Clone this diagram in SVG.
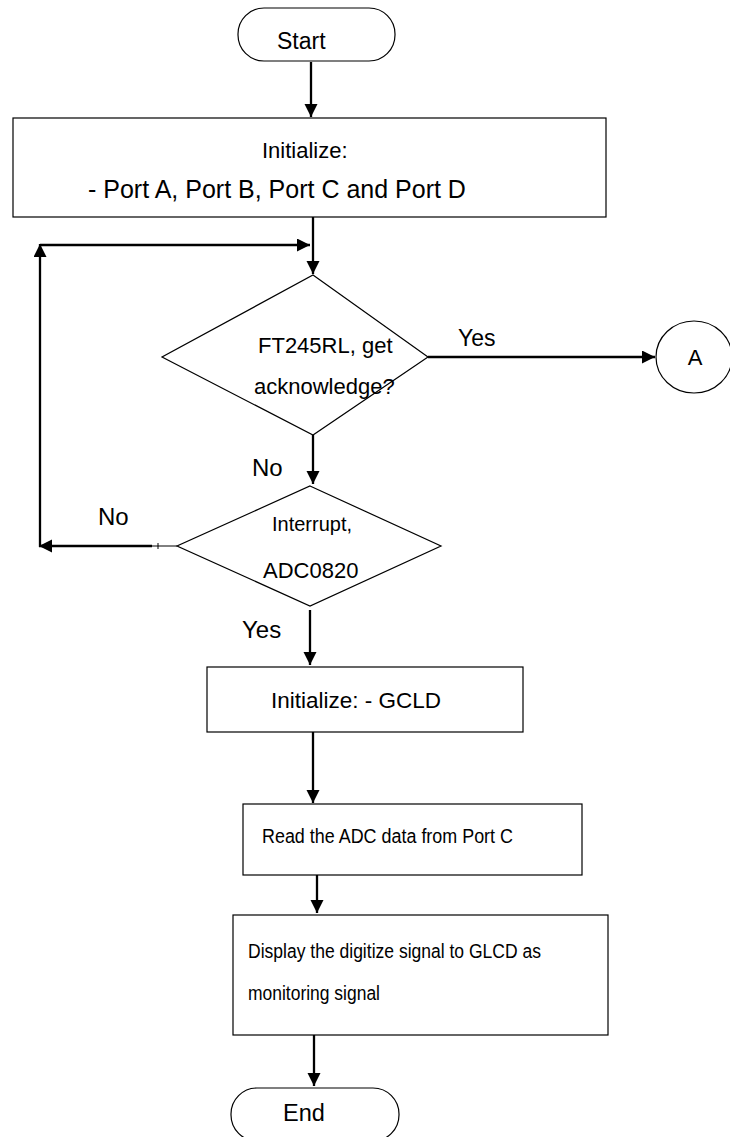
<svg xmlns="http://www.w3.org/2000/svg" width="730" height="1137" viewBox="0 0 730 1137">
  <style>
    .shape { fill: #ffffff; stroke: #000000; stroke-width: 1.2; }
    .label { font-family: "Liberation Sans", Arial, sans-serif; font-size: 22px; fill: #000000; }
    .mid { text-anchor: middle; }
    .edge { fill: none; stroke: #000000; stroke-width: 2.3; }
    .thin { fill: none; stroke: #000000; stroke-width: 1; }
  </style>
  <defs>
    <marker id="arrow" markerWidth="14" markerHeight="14" refX="13" refY="6.5" orient="auto" markerUnits="userSpaceOnUse">
      <path d="M0,0 L13,6.5 L0,13 z" fill="#000000"/>
    </marker>
  </defs>
  <rect width="730" height="1137" fill="#ffffff"/>

  <g id="connectors">
    <line class="edge" x1="311" y1="62" x2="311" y2="117" marker-end="url(#arrow)"/>
    <line class="edge" x1="313" y1="217" x2="313" y2="274" marker-end="url(#arrow)"/>
    <line class="edge" x1="428" y1="357" x2="655" y2="357" marker-end="url(#arrow)"/>
    <line class="edge" x1="313" y1="435" x2="313" y2="484" marker-end="url(#arrow)"/>
    <line class="thin" x1="177" y1="546" x2="152" y2="546"/>
    <line class="thin" x1="158" y1="543" x2="158" y2="549"/>
    <line class="edge" x1="152" y1="546" x2="39" y2="546" marker-end="url(#arrow)"/>
    <line class="edge" x1="40" y1="547" x2="40" y2="244" marker-end="url(#arrow)"/>
    <line class="edge" x1="40" y1="245" x2="310" y2="245" marker-end="url(#arrow)"/>
    <line class="edge" x1="310" y1="610" x2="310" y2="665" marker-end="url(#arrow)"/>
    <line class="edge" x1="313" y1="732" x2="313" y2="803" marker-end="url(#arrow)"/>
    <line class="edge" x1="317" y1="875" x2="317" y2="913" marker-end="url(#arrow)"/>
    <line class="edge" x1="314" y1="1035" x2="314" y2="1086" marker-end="url(#arrow)"/>
    <text class="label" x="458" y="346" style="font-size:23px">Yes</text>
    <text class="label" x="252" y="476" style="font-size:24px">No</text>
    <text class="label" x="98" y="525" style="font-size:24px">No</text>
    <text class="label" x="242" y="638" style="font-size:24px">Yes</text>
  </g>

  <g id="start">
    <rect class="shape" x="238" y="8" width="157" height="53" rx="26" ry="26"/>
    <text class="label" x="277" y="49" style="font-size:23px">Start</text>
  </g>

  <g id="init-ports">
    <rect class="shape" x="13" y="118" width="593" height="99"/>
    <text class="label" x="262" y="158">Initialize:</text>
    <text class="label" x="88" y="198" style="font-size:25px">- Port A, Port B, Port C and Port D</text>
  </g>

  <g id="ft245rl-ack">
    <polygon class="shape" points="313,275 428,357 313,435 162,357"/>
    <text class="label" x="258" y="353">FT245RL, get</text>
    <text class="label" x="254" y="394">acknowledge?</text>
  </g>

  <g id="connector-a">
    <ellipse class="shape" cx="694" cy="357" rx="38" ry="36"/>
    <text class="label mid" x="695" y="365">A</text>
  </g>

  <g id="adc-interrupt">
    <polygon class="shape" points="310,486 441,546 310,606 177,546"/>
    <text class="label" x="272" y="531" style="font-size:21px" textLength="80" lengthAdjust="spacingAndGlyphs">Interrupt,</text>
    <text class="label" x="263" y="578">ADC0820</text>
  </g>

  <g id="init-glcd">
    <rect class="shape" x="207" y="667" width="316" height="65"/>
    <text class="label" x="271" y="708" style="font-size:22.5px">Initialize: - GCLD</text>
  </g>

  <g id="read-adc">
    <rect class="shape" x="243" y="804" width="339" height="71"/>
    <text class="label" x="262" y="843" style="font-size:20px" textLength="251" lengthAdjust="spacingAndGlyphs">Read the ADC data from Port C</text>
  </g>

  <g id="display-glcd">
    <rect class="shape" x="233" y="915" width="375" height="120"/>
    <text class="label" x="248" y="958" style="font-size:20px" textLength="293" lengthAdjust="spacingAndGlyphs">Display the digitize signal to GLCD as</text>
    <text class="label" x="248" y="1000" style="font-size:20px" textLength="132" lengthAdjust="spacingAndGlyphs">monitoring signal</text>
  </g>

  <g id="end">
    <rect class="shape" x="231" y="1088" width="168" height="53" rx="26" ry="26"/>
    <text class="label" x="283" y="1121" style="font-size:23.5px">End</text>
  </g>
</svg>
